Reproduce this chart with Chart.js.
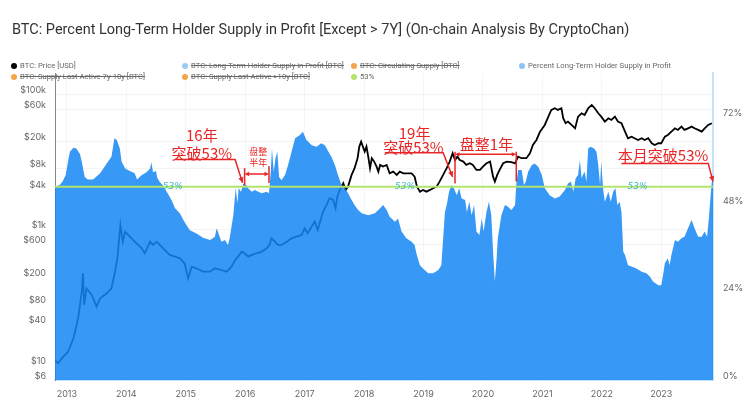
<!DOCTYPE html>
<html><head><meta charset="utf-8">
<script src="https://cdn.jsdelivr.net/npm/chart.js@4"></script>
<style>
body{margin:0;background:#fff;width:750px;height:412px;overflow:hidden;position:relative;font-family:Roboto,Inter,sans-serif}
canvas{position:absolute;left:0;top:0}
#title{position:absolute;left:12px;top:20px;font-size:14.5px;color:#333;white-space:nowrap;line-height:20px}
.lg{position:absolute;font-size:7.7px;line-height:10px;color:#666;white-space:nowrap}
.lg i{display:inline-block;width:6px;height:6px;border-radius:50%;margin-right:3px;vertical-align:-0.5px}
.off span{text-decoration:line-through}
</style></head>
<body>
<canvas id="c" width="750" height="412"></canvas>
<div id="title">BTC: Percent Long-Term Holder Supply in Profit [Except &gt; 7Y] (On-chain Analysis By CryptoChan)</div>
<div class="lg" style="left:11px;top:61px"><i style="background:#000"></i><span>BTC: Price [USD]</span></div>
<div class="lg off" style="left:182px;top:61px"><i style="background:#9ccbf3"></i><span>BTC: Long-Term Holder Supply in Profit [BTC]</span></div>
<div class="lg off" style="left:351px;top:61px"><i style="background:#f4a54a"></i><span>BTC: Circulating Supply [BTC]</span></div>
<div class="lg" style="left:519px;top:61px"><i style="background:#8cc4f5"></i><span>Percent Long-Term Holder Supply in Profit</span></div>
<div class="lg off" style="left:11px;top:72px"><i style="background:#f4a54a"></i><span>BTC: Supply Last Active 7y-10y [BTC]</span></div>
<div class="lg off" style="left:182px;top:72px"><i style="background:#f4a54a"></i><span>BTC: Supply Last Active &gt;10y [BTC]</span></div>
<div class="lg" style="left:351px;top:72px"><i style="background:#b5e46c"></i><span>53%</span></div>
<script>
const areaYears = [2012.80,2012.88,2012.93,2012.98,2013.02,2013.05,2013.11,2013.16,2013.22,2013.25,2013.29,2013.30,2013.35,2013.44,2013.56,2013.67,2013.75,2013.80,2013.84,2013.89,2013.92,2013.98,2014.06,2014.14,2014.18,2014.26,2014.34,2014.40,2014.42,2014.45,2014.50,2014.52,2014.56,2014.61,2014.68,2014.76,2014.82,2014.90,2014.96,2015.01,2015.07,2015.18,2015.29,2015.41,2015.49,2015.52,2015.54,2015.60,2015.66,2015.71,2015.74,2015.80,2015.84,2015.87,2015.89,2015.93,2015.97,2016.02,2016.05,2016.11,2016.16,2016.22,2016.28,2016.36,2016.40,2016.43,2016.45,2016.48,2016.51,2016.54,2016.57,2016.61,2016.67,2016.72,2016.78,2016.84,2016.92,2016.97,2017.03,2017.12,2017.20,2017.28,2017.34,2017.40,2017.45,2017.51,2017.56,2017.62,2017.68,2017.73,2017.79,2017.84,2017.90,2017.96,2018.07,2018.18,2018.27,2018.32,2018.38,2018.43,2018.52,2018.57,2018.63,2018.71,2018.80,2018.85,2018.88,2018.94,2018.99,2019.08,2019.16,2019.25,2019.30,2019.36,2019.39,2019.43,2019.47,2019.51,2019.56,2019.60,2019.64,2019.70,2019.73,2019.77,2019.81,2019.85,2019.89,2019.94,2019.98,2020.01,2020.06,2020.10,2020.14,2020.17,2020.20,2020.23,2020.25,2020.31,2020.37,2020.42,2020.48,2020.54,2020.56,2020.59,2020.65,2020.69,2020.72,2020.76,2020.82,2020.87,2020.93,2020.99,2021.04,2021.10,2021.12,2021.21,2021.29,2021.38,2021.43,2021.48,2021.52,2021.56,2021.60,2021.63,2021.66,2021.68,2021.71,2021.74,2021.77,2021.81,2021.87,2021.91,2021.94,2021.97,2021.99,2022.02,2022.05,2022.11,2022.15,2022.19,2022.23,2022.26,2022.30,2022.33,2022.36,2022.39,2022.44,2022.50,2022.58,2022.67,2022.75,2022.81,2022.86,2022.95,2023.00,2023.03,2023.06,2023.11,2023.14,2023.17,2023.23,2023.28,2023.34,2023.39,2023.45,2023.51,2023.56,2023.62,2023.68,2023.73,2023.77,2023.80,2023.83,2023.85,2023.87];
const lthProfitPct = [53.0,53.5,54.5,56.2,60,62.6,63.7,63.5,62,59.9,56.5,55.7,55.0,55.0,56.7,59.4,61.2,66.3,65.8,63.5,59.9,58.0,57.3,56.7,55.0,56.2,57.0,58.0,59.7,57.0,57.3,55.5,54.4,53.5,51.6,49.4,47.1,45.7,43.9,42.5,41.1,40.2,39.0,38.4,39.3,41.6,40.7,37.9,38.4,37.0,39,45.2,52.6,48.5,52.6,51.6,53.9,53.5,52.6,51.6,52.1,51.6,51.2,51.6,51.2,57.1,63.5,57.1,60.8,62.6,55.7,54.8,56.2,58.9,62.6,66.3,67.2,68.1,65.8,64.4,64.0,64.9,64.4,62.6,61.2,58.9,56.2,53.5,52.6,51.2,49.4,48.0,46.6,45.7,45.2,45.7,47.1,48.0,46.6,44.8,43.4,44.3,40.7,38.9,37.9,37.0,34.7,31.5,30.6,29.3,29.3,30.2,31.5,46.1,48.0,51.6,53.5,52.6,50.7,52.6,49.8,49.4,46.1,48.9,45.2,48.0,40.7,39.8,44.3,40.7,46.1,48.9,45.2,35.2,27.0,33.4,38.9,45.2,48.0,47.5,46.6,48.0,53.5,57.6,57.6,53.5,54.4,57.1,58.9,59.4,58.5,56.2,52.6,51.2,50.7,49.8,50.3,52.1,53.9,54.4,51.6,55.3,56.2,60.3,55.3,56.2,57.1,54.4,63.5,64.0,63.5,62.6,58.9,53.5,59.9,52.6,48.9,51.6,48.9,51.6,52.6,48.0,48.9,46.1,35.2,34.3,31.5,31.1,30.6,29.7,29.3,28.3,27.0,26.0,26.0,28.8,32.0,33.4,31.5,34.3,38.4,37.9,38.9,39.3,41.6,43.9,41.6,39.3,39.3,40.7,39.3,44.3,50.7,54.4,54.8];
const priceYears = [2012.80,2012.85,2012.94,2013.02,2013.11,2013.19,2013.25,2013.27,2013.29,2013.33,2013.42,2013.50,2013.56,2013.67,2013.75,2013.81,2013.85,2013.90,2013.94,2013.98,2014.06,2014.14,2014.20,2014.26,2014.31,2014.40,2014.45,2014.51,2014.62,2014.73,2014.82,2014.90,2014.98,2015.04,2015.10,2015.18,2015.29,2015.41,2015.49,2015.60,2015.69,2015.77,2015.83,2015.88,2015.94,2015.99,2016.05,2016.11,2016.19,2016.28,2016.36,2016.41,2016.44,2016.50,2016.55,2016.61,2016.70,2016.78,2016.86,2016.95,2017.00,2017.05,2017.10,2017.17,2017.22,2017.26,2017.31,2017.37,2017.42,2017.48,2017.52,2017.55,2017.59,2017.65,2017.69,2017.73,2017.79,2017.84,2017.89,2017.92,2017.95,2017.98,2018.01,2018.04,2018.07,2018.10,2018.13,2018.17,2018.21,2018.24,2018.27,2018.32,2018.38,2018.43,2018.49,2018.55,2018.60,2018.66,2018.71,2018.80,2018.85,2018.89,2018.94,2018.99,2019.05,2019.11,2019.16,2019.22,2019.27,2019.33,2019.39,2019.44,2019.49,2019.53,2019.57,2019.61,2019.67,2019.72,2019.78,2019.83,2019.89,2019.95,2020.00,2020.06,2020.12,2020.17,2020.20,2020.24,2020.28,2020.34,2020.40,2020.48,2020.54,2020.59,2020.65,2020.73,2020.79,2020.84,2020.90,2020.96,2021.04,2021.10,2021.15,2021.21,2021.26,2021.32,2021.35,2021.39,2021.43,2021.49,2021.55,2021.60,2021.66,2021.71,2021.77,2021.83,2021.88,2021.94,2021.99,2022.05,2022.11,2022.16,2022.22,2022.27,2022.33,2022.39,2022.44,2022.50,2022.55,2022.61,2022.67,2022.72,2022.78,2022.84,2022.89,2022.95,2023.00,2023.06,2023.11,2023.17,2023.23,2023.28,2023.34,2023.39,2023.45,2023.51,2023.56,2023.62,2023.68,2023.73,2023.79,2023.85];
const priceUSD = [11.9,10.6,13.3,15.7,24.8,49,121,227,77,136,108,73,97,115,136,240,378,1175,667,933,791,667,596,532,449,667,596,667,532,424,400,378,319,191,284,269,240,240,269,254,240,284,357,400,474,449,400,424,449,474,532,596,748,667,596,596,667,748,791,838,1052,887,1052,1318,993,1318,1854,2328,2924,2761,2080,3090,3882,4875,3882,4345,6471,8128,11429,16982,20090,16982,14289,16982,12050,8128,11429,10186,8590,7228,9099,8590,9099,6839,7228,6471,7228,6839,6839,6839,6095,4345,3656,3882,3656,3882,4102,4345,5152,6471,8128,10186,13552,10765,12050,10765,10186,9099,9616,9099,7674,7674,8590,9616,10186,6095,5152,6471,7674,9616,10186,10000,9616,12050,11429,11429,13552,17947,21281,28249,35481,47098,59156,62661,59156,62661,44566,37584,39811,35481,31623,47098,52845,49888,62661,70146,62661,52845,47098,39811,44566,42073,47098,39811,37584,28249,22542,23823,22542,21281,22542,21281,22542,19011,17947,19011,19011,23823,25235,28249,31623,29923,33497,29923,31623,33497,31623,29923,28249,31623,35481,37584];
const thresholdPct = [53, 53];
const thresholdYears = [2012.80, 2023.87];
const yearTicks = [2013,2014,2015,2016,2017,2018,2019,2020,2021,2022,2023];
const priceTicks = [6,10,40,80,200,600,1000,4000,8000,20000,60000,100000];
const pctTicks = [0,24,48,72];
const thresholdLabelYears = [2014.78, 2018.69, 2022.60];

const RED = 'rgb(232,38,38)';
const annot = {
  id:'annot',
  afterDatasetsDraw(chart){
    const c = chart.ctx, x = chart.scales.x, y = chart.scales.yR;
    const X = v => x.getPixelForValue(v), Y = v => y.getPixelForValue(v);
    c.save();
    c.font = 'italic 9px "DejaVu Sans", sans-serif';
    c.fillStyle = '#3fb3c9'; c.textAlign='center'; c.textBaseline='middle';
    thresholdLabelYears.forEach(v => c.fillText('53%', X(v), Y(53)));
    c.strokeStyle = RED; c.fillStyle = RED; c.lineWidth = 1.5;
    const line = pts => { c.beginPath(); c.moveTo(pts[0][0],pts[0][1]); for (let i=1;i<pts.length;i++) c.lineTo(pts[i][0],pts[i][1]); c.stroke(); };
    const head = (x1,y1,x2,y2,s) => { const a=Math.atan2(y2-y1,x2-x1); c.beginPath(); c.moveTo(x2,y2); c.lineTo(x2-s*Math.cos(a-0.45),y2-s*Math.sin(a-0.45)); c.lineTo(x2-s*Math.cos(a+0.45),y2-s*Math.sin(a+0.45)); c.closePath(); c.fill(); };
    const text = (t,xv,yv,size) => { c.font = size+'px "Noto Sans CJK SC", sans-serif'; c.textAlign='center'; c.textBaseline='middle'; c.fillText(t, X(xv), Y(yv)); };
    const callout = (x1,x2,yu,tx,ty) => { line([[X(x1),Y(yu)],[X(x2),Y(yu)],[X(tx),Y(ty)]]); head(X(x2),Y(yu),X(tx),Y(ty),6); };
    const dbl = (x1,x2,yv,t1,b1,t2,b2) => { line([[X(x1),Y(t1)],[X(x1),Y(b1)]]); line([[X(x2),Y(t2)],[X(x2),Y(b2)]]); line([[X(x1)+2,Y(yv)],[X(x2)-2,Y(yv)]]); head(X(x2),Y(yv),X(x1),Y(yv),5); head(X(x1),Y(yv),X(x2),Y(yv),5); };
    text('16年', 2015.27, 67.0, 15); text('突破53%', 2015.27, 62.2, 15);
    callout(2014.82, 2015.83, 60.5, 2015.955, 54.1);
    text('盘整', 2016.22, 62.6, 9); text('半年', 2016.22, 59.6, 9);
    dbl(2015.99, 2016.40, 56.5, 58.1, 53.5, 58.7, 54.0);
    text('19年', 2018.85, 67.6, 15); text('突破53%', 2018.83, 63.8, 15);
    callout(2018.35, 2019.33, 62.3, 2019.49, 55.7);
    text('盘整1年', 2020.06, 64.7, 15);
    dbl(2019.53, 2020.56, 61.9, 62.6, 53.9, 62.6, 54.4);
    text('本月突破53%', 2023.03, 61.7, 15);
    callout(2022.33, 2023.79, 59.4, 2023.87, 54.4);
    c.restore();
  }
};

const fmtPrice = v => '$' + (v >= 1000 ? (v/1000) + 'k' : v);
new Chart(document.getElementById('c'), {
  type:'line',
  data:{datasets:[
    {label:'Percent Long-Term Holder Supply in Profit', data: areaYears.map((v,i)=>({x:v,y:lthProfitPct[i]})), yAxisID:'yR', fill:'origin', backgroundColor:'rgba(21,134,243,0.85)', borderWidth:0, pointRadius:0, tension:0, order:1},
    {label:'BTC: Price [USD]', data: priceYears.map((v,i)=>({x:v,y:priceUSD[i]})), yAxisID:'yL', fill:false, borderColor:'#000', borderWidth:1.8, pointRadius:0, tension:0, order:2},
    {label:'53%', data: thresholdYears.map((v,i)=>({x:v,y:thresholdPct[i]})), yAxisID:'yR', fill:false, borderColor:'#b2e36b', borderWidth:2, pointRadius:0, order:0}
  ]},
  options:{
    responsive:false, animation:false, devicePixelRatio:1,
    layout:{padding:{top:73,left:0,right:0,bottom:0}},
    plugins:{legend:{display:false}, tooltip:{enabled:false}},
    scales:{
      x:{type:'linear', min:2012.8, max:2023.87,
         afterFit(s){s.height=32;}, afterBuildTicks(s){s.ticks=yearTicks.map(v=>({value:v}));},
         ticks:{color:'#666', font:{size:9, family:'Inter'}, padding:9, maxRotation:0, autoSkip:false, callback:v=>String(v)},
         grid:{color:'rgba(0,0,0,0.035)', drawTicks:false}, border:{color:'#c5e2fb', width:2}},
      yL:{type:'logarithmic', position:'left', min:6, max:208000,
         afterFit(s){s.width=55;}, afterBuildTicks(s){s.ticks=priceTicks.map(v=>({value:v}));},
         ticks:{color:'#666', font:{size:9, family:'Inter'}, padding:9, labelOffset:-4, autoSkip:false, callback:v=>fmtPrice(v)},
         grid:{color:'rgba(0,0,0,0.045)', drawTicks:false}, border:{color:'#888', width:1}},
      yR:{type:'linear', position:'right', min:0, max:84.2,
         afterFit(s){s.width=37;}, afterBuildTicks(s){s.ticks=pctTicks.map(v=>({value:v}));},
         ticks:{color:'#666', font:{size:9, family:'Inter'}, padding:10, labelOffset:-4, autoSkip:false, callback:v=>v+'%'},
         grid:{display:false, drawTicks:false}, border:{color:'#c5e2fb', width:2}}
    }
  },
  plugins:[annot]
});
</script>
</body></html>
